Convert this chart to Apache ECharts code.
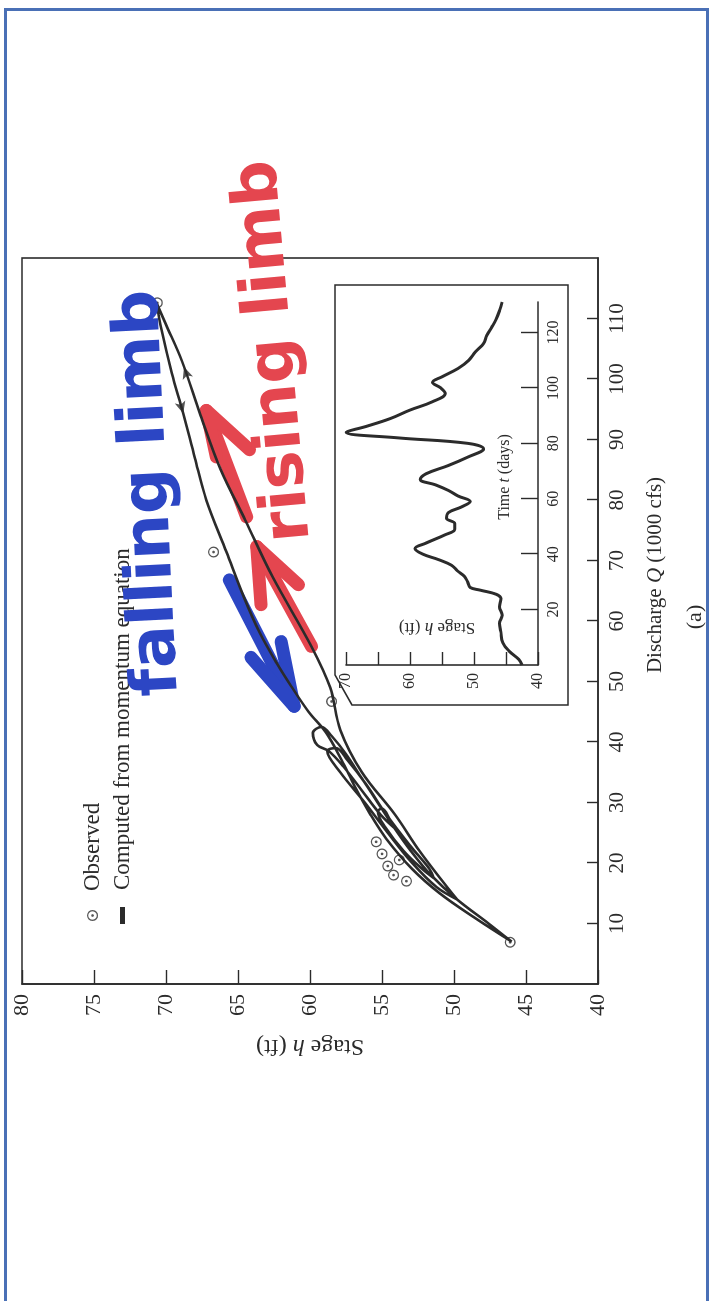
<!DOCTYPE html>
<html>
<head>
<meta charset="utf-8">
<script src="https://cdn.jsdelivr.net/npm/echarts@6/dist/echarts.min.js"></script>
<style>
  html, body { margin: 0; padding: 0; background: #fff; }
  body { width: 710px; height: 1301px; position: relative; overflow: hidden; }
  .page-border {
    position: absolute; left: 4px; top: 8px; width: 699px; height: 1290px; z-index: 2;
    border: 3.5px solid #4a70b6; box-sizing: content-box; pointer-events: none;
  }
  /* the figure is printed sideways: draw it upright, then turn it */
  #chart {
    position: absolute; left: 0; top: 0; width: 1301px; height: 710px; z-index: 1;
    transform-origin: 0 0; transform: translateY(1301px) rotate(-90deg);
  }
</style>
</head>
<body>
<div id="chart"></div>
<div class="page-border"></div>
<script>
  // discharge Q (1000 cfs) / stage h (ft), in time order
  const computedCurve = [
    [7, 46.0], [10, 47.6], [14, 49.8], [18, 51.6], [22, 53.0], [26, 54.2], [30, 55.3],
    [34, 56.4], [38, 57.5], [41, 58.5], [42.5, 59.2], [41.5, 59.8], [39.5, 59.5], [38.5, 58.7],
    [36, 57.7], [32, 56.4], [28, 55.1], [25.5, 54.0], [27, 54.4], [29, 55.0], [28.5, 55.3],
    [26, 54.8], [22, 53.5], [19, 52.2], [17.5, 51.4], [19, 51.7], [23, 53.1], [28, 54.7],
    [33, 56.1], [37, 57.4], [39, 58.2], [38.5, 58.8], [35, 57.9], [30, 56.2], [25, 54.6],
    [20, 52.9], [16, 51.2], [14, 49.8], [17, 50.8], [22, 52.4], [28, 54.1], [35, 56.4],
    [42, 57.9], [49, 58.6], [55.8, 59.9], [67.3, 62.6], [76.7, 64.5], [85, 66.2], [94, 67.6],
    [103, 68.9], [109, 70.0], [112.6, 70.66], [108, 70.3], [101, 69.6], [94.3, 68.8],
    [87, 68.0], [80, 67.2], [71.4, 65.8], [64, 64.6], [58.1, 63.5], [53, 62.3], [49.2, 61.3],
    [45, 60.1], [41.6, 58.9], [37, 57.8], [32.7, 56.9], [28, 55.8], [24, 54.7], [19, 52.9],
    [15, 51.0], [11, 48.6], [7, 46.0]
  ];
  const observedPoints = [
    [112.6, 70.6], [71.4, 66.7], [46.7, 58.5], [23.5, 55.4], [21.5, 55.0], [19.5, 54.6],
    [18, 54.2], [20.5, 53.8], [17, 53.3], [6.9, 46.1]
  ];
  // flow-direction arrowheads on the computed curve: Q, h, dQ, dh
  const curveArrows = [
    [102, 68.75, 9, 1.3],
    [94.3, 68.8, -6.7, -0.8]
  ];
  // inset hydrograph: time t (days) / stage h (ft)
  const insetDays = [0, 2, 5, 8, 12, 15, 18, 21, 24, 25.5, 27, 28, 30, 32, 34, 36, 38, 40, 42, 44,
    47, 49, 51, 53, 55, 57, 59, 61, 63, 65, 67, 69, 72, 75, 78, 80, 82, 84, 86, 89, 92, 95, 98,
    100, 102, 104, 107, 110, 113, 116, 119, 122, 125, 128, 131];
  const insetStage = [42.5, 43, 44.5, 45.5, 45.8, 46, 45.6, 46, 45.8, 46.5, 49, 50.6, 51, 51.5,
    52.6, 53.5, 55.5, 58, 59.2, 57.5, 54.5, 53, 53, 54.3, 54, 52, 50.6, 52.5, 54, 56, 58.4, 57.5,
    54, 51, 48.5, 51, 62, 70, 67, 63, 60, 56.5, 54.5, 55.2, 56.5, 55, 52.5, 50.8, 49.8, 48.5, 48,
    47.2, 46.5, 46, 45.6];
  // hand-drawn marker arrows, in (Q, h)
  const fallingArrow = [[[66.8, 65.6], [45.9, 61.1]], [[54.0, 64.1], [45.9, 61.1], [56.6, 62.0]]];
  const risingArrows = [
    [[55.8, 59.9], [72.3, 63.7]], [[62.7, 63.4], [72.3, 63.7], [66.0, 60.8]],
    [[77.2, 64.4], [94.8, 67.2]], [[87.1, 66.5], [94.8, 67.2], [88.3, 64.2]]
  ];
  const qRange = [0, 120, 10];
  const hRange = [40, 80, 5];
  const dayRange = [0, 131, 20];
  const insetStageRange = [40, 70, 5];

  const serif = '"Liberation Serif", "DejaVu Serif", serif';
  const ink = '#2b2b2b';
  const ringIcon = 'path://M0,10A10,10,0,1,1,20,10A10,10,0,1,1,0,10Z' +
    'M2.4,10A7.6,7.6,0,1,0,17.6,10A7.6,7.6,0,1,0,2.4,10Z' +
    'M7.5,10A2.5,2.5,0,1,1,12.5,10A2.5,2.5,0,1,1,7.5,10Z';

  // px per unit of the main grid, used only to turn arrowheads along the curve
  const pxPerQ = (1301 - 317 - 258) / (qRange[1] - qRange[0]);
  const pxPerH = (710 - 22 - 112) / (hRange[1] - hRange[0]);
  const arrowData = curveArrows.map(a => ({
    value: [a[0], a[1]],
    symbolRotate: Math.atan2(-a[2] * pxPerQ, a[3] * pxPerH) * 180 / Math.PI
  }));

  const handStyle = { fontFamily: '"DejaVu Sans", sans-serif', fontWeight: 'bold', fontSize: 64 };

  const chart = echarts.init(document.getElementById('chart'));
  chart.setOption({
    animation: false,
    backgroundColor: 'transparent',
    grid: [
      { left: 317, right: 258, top: 22, bottom: 112, show: true, borderColor: ink, borderWidth: 1.6 },
      { left: 636, right: 302, top: 346, bottom: 172 }
    ],
    xAxis: [
      {
        type: 'value', min: qRange[0], max: qRange[1], interval: qRange[2], gridIndex: 0,
        splitLine: { show: false },
        axisLine: { lineStyle: { color: ink, width: 1.6 } },
        axisTick: { inside: true, length: 11, lineStyle: { color: ink, width: 1.4 } },
        axisLabel: { showMinLabel: false, showMaxLabel: false, margin: 9, color: ink, fontFamily: serif, fontSize: 21 }
      },
      {
        type: 'value', min: dayRange[0], max: dayRange[1], interval: dayRange[2], gridIndex: 1,
        splitLine: { show: false },
        axisLine: { onZero: false, lineStyle: { color: ink, width: 1.6 } },
        axisTick: { inside: true, length: 17, lineStyle: { color: ink, width: 1.4 } },
        axisLabel: { showMinLabel: false, showMaxLabel: false, margin: 8, color: ink, fontFamily: serif, fontSize: 16 }
      }
    ],
    yAxis: [
      {
        type: 'value', min: hRange[0], max: hRange[1], interval: hRange[2], gridIndex: 0,
        splitLine: { show: false },
        axisLine: { lineStyle: { color: ink, width: 1.6 } },
        axisTick: { inside: true, length: 14, lineStyle: { color: ink, width: 1.4 } },
        axisLabel: { margin: 10, color: ink, fontFamily: serif, fontSize: 22 },
        name: '{n|Stage }{i|h}{n| (ft)}', nameLocation: 'middle', nameGap: 50,
        nameTextStyle: {
          rich: {
            n: { fontFamily: serif, fontSize: 24, color: ink },
            i: { fontFamily: serif, fontSize: 24, fontStyle: 'italic', color: ink }
          }
        }
      },
      {
        type: 'value', min: insetStageRange[0], max: insetStageRange[1], interval: insetStageRange[2], gridIndex: 1,
        splitLine: { show: false },
        axisLine: { onZero: false, lineStyle: { color: ink, width: 1.6 } },
        axisTick: { inside: true, length: 13, lineStyle: { color: ink, width: 1.4 } },
        axisLabel: { margin: 8, color: ink, fontFamily: serif, fontSize: 16,
          formatter: v => (v % 10 === 0 ? String(v) : '') }
      }
    ],
    legend: [
      {
        data: [{ name: 'Observed', icon: ringIcon }], left: 375, top: 76,
        itemWidth: 11, itemHeight: 11,
        textStyle: { fontFamily: serif, fontSize: 23, color: ink, padding: [0, 0, 0, 14] }
      },
      {
        data: [{ name: 'Computed from momentum equation', icon: 'rect' }], left: 372, top: 106,
        itemWidth: 17, itemHeight: 5,
        textStyle: { fontFamily: serif, fontSize: 23, color: ink, padding: [0, 0, 0, 12] }
      }
    ],
    graphic: [
      {
        type: 'polygon', silent: true,
        shape: { points: [[596, 352], [626, 335], [1016, 335], [1016, 568], [596, 568]] },
        style: { fill: 'none', stroke: ink, lineWidth: 1.5 }
      },
      {
        type: 'text', x: 726, y: 655,
        style: {
          text: '{n|Discharge }{i|Q}{n| (1000 cfs)}', align: 'center', verticalAlign: 'middle',
          rich: {
            n: { fontFamily: serif, fontSize: 21, fill: ink },
            i: { fontFamily: serif, fontSize: 21, fontStyle: 'italic', fill: ink }
          }
        }
      },
      {
        type: 'text', x: 684, y: 695,
        style: { text: '(a)', align: 'center', verticalAlign: 'middle', font: '22px ' + serif, fill: ink }
      },
      {
        type: 'text', x: 824, y: 505,
        style: {
          text: '{n|Time }{i|t}{n| (days)}', align: 'center', verticalAlign: 'middle',
          rich: {
            n: { fontFamily: serif, fontSize: 16, fill: ink },
            i: { fontFamily: serif, fontSize: 16, fontStyle: 'italic', fill: ink }
          }
        }
      },
      {
        type: 'text', x: 674, y: 437, rotation: Math.PI / 2,
        style: {
          text: '{n|Stage }{i|h}{n| (ft)}', align: 'center', verticalAlign: 'middle',
          rich: {
            n: { fontFamily: serif, fontSize: 17, fill: ink },
            i: { fontFamily: serif, fontSize: 17, fontStyle: 'italic', fill: ink }
          }
        }
      },
      {
        type: 'text', x: 808, y: 150, rotation: 0.05, z: 5,
        style: Object.assign({ text: 'falling limb', align: 'center', verticalAlign: 'middle', fill: '#2c46c4' }, handStyle)
      },
      {
        type: 'text', x: 950, y: 275, rotation: 0.09, z: 5,
        style: Object.assign({ text: 'rising limb', align: 'center', verticalAlign: 'middle', fill: '#e4464f' }, handStyle)
      }
    ],
    series: [
      {
        type: 'lines', coordinateSystem: 'cartesian2d', polyline: true, z: 1, silent: true,
        lineStyle: { color: '#2c46c4', width: 13, opacity: 1, cap: 'round', join: 'round' },
        data: fallingArrow.map(c => ({ coords: c }))
      },
      {
        type: 'lines', coordinateSystem: 'cartesian2d', polyline: true, z: 1, silent: true,
        lineStyle: { color: '#e4464f', width: 13, opacity: 1, cap: 'round', join: 'round' },
        data: risingArrows.map(c => ({ coords: c }))
      },
      {
        name: 'Computed from momentum equation', type: 'line', data: computedCurve, z: 3,
        smooth: 0.35, symbol: 'none', color: ink,
        lineStyle: { color: ink, width: 2.6 }
      },
      {
        name: 'Observed', type: 'scatter', data: observedPoints, z: 4,
        symbol: ringIcon, symbolSize: 11, color: ink, itemStyle: { color: ink }
      },
      {
        type: 'scatter', data: arrowData, z: 4, symbol: 'arrow', symbolSize: [8, 12],
        itemStyle: { color: ink }
      },
      {
        type: 'line', xAxisIndex: 1, yAxisIndex: 1, z: 3,
        data: insetDays.map((t, i) => [t, insetStage[i]]),
        smooth: 0.4, symbol: 'none', lineStyle: { color: ink, width: 3 }
      }
    ]
  });
</script>
</body>
</html>
